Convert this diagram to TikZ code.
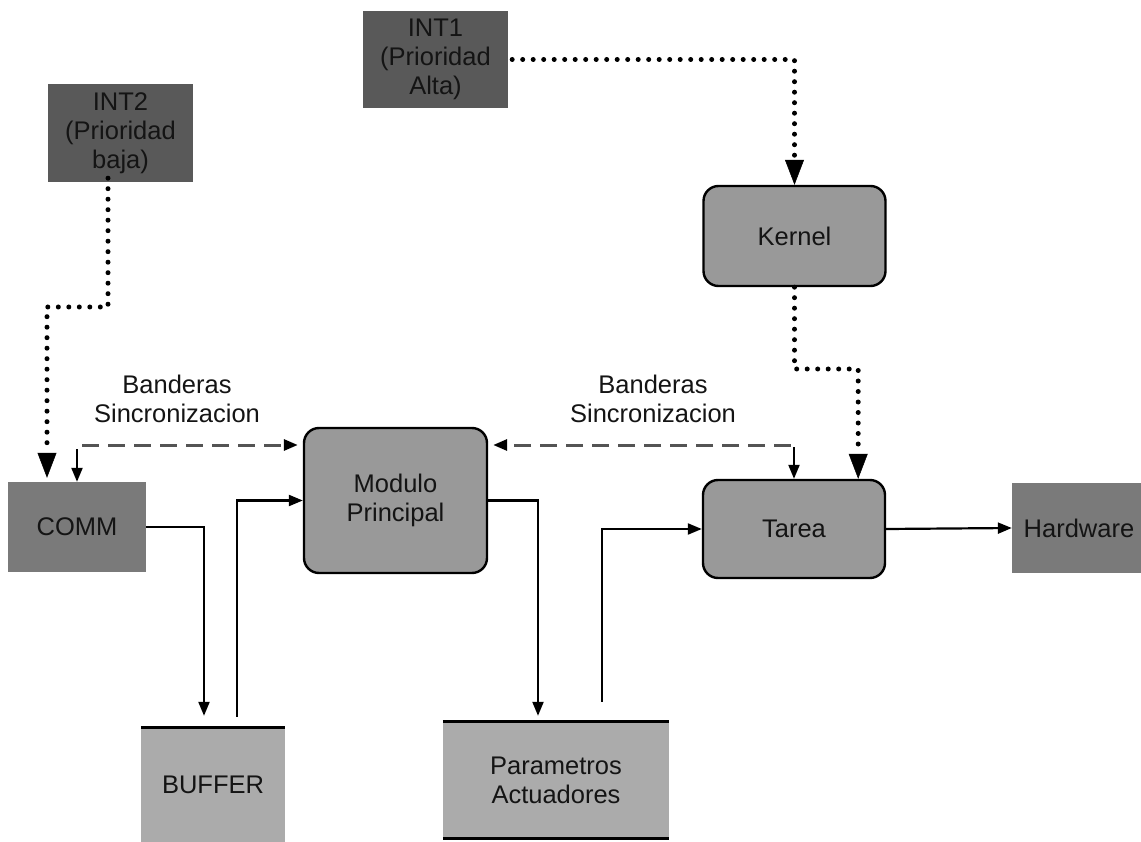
\documentclass[tikz,border=0pt]{standalone}
\usepackage{fontspec}
\setmainfont{Liberation Sans}
\usetikzlibrary{arrows.meta}
\definecolor{irqgray}{gray}{0.35}
\definecolor{portgray}{gray}{0.48}
\definecolor{procgray}{gray}{0.60}
\definecolor{storegray}{gray}{0.67}
\definecolor{syncgray}{gray}{0.33}
\definecolor{inkgray}{gray}{0.08}
\begin{document}
\begin{tikzpicture}[x=1pt,y=-1pt,
  every node/.style={font=\fontsize{25.5pt}{29pt}\selectfont, text=inkgray, align=center, inner sep=0pt},
  irq/.style={rectangle, fill=irqgray},
  port/.style={rectangle, fill=portgray},
  proc/.style={rectangle, draw=black, line width=2.4pt, rounded corners=15pt, fill=procgray},
  store/.style={rectangle, fill=storegray},
  storeline/.style={line width=2.8pt},
  dotline/.style={line width=5pt, dash pattern=on 0pt off 10.5pt, line cap=round,
    -{Triangle[length=25pt,width=19pt,line width=0.5pt]}},
  flow/.style={line width=2.2pt, -{Triangle[length=14pt,width=11pt]}},
  sync/.style={line width=3pt, draw=syncgray, dash pattern=on 17pt off 9pt,
    -{Triangle[length=14pt,width=11pt,color=black]}}]

\useasboundingbox (0,0) rectangle (1141,842);

% interrupt sources
\node[irq, minimum width=145pt, minimum height=98pt] (int2) at (120.5,133) {INT2\\(Prioridad\\baja)};
\node[irq, minimum width=145pt, minimum height=97pt] (int1) at (435.5,59.5) {INT1\\(Prioridad\\Alta)};

% processing blocks
\node[proc, minimum width=182pt, minimum height=100pt] (kernel) at (794.5,236) {Kernel};
\node[proc, minimum width=183pt, minimum height=145pt] (modulo) at (395.5,500.5) {Modulo\\Principal};
\node[proc, minimum width=182pt, minimum height=98pt] (tarea) at (794,529) {Tarea};

% ports
\node[port, minimum width=138pt, minimum height=90pt] (comm) at (77,527) {COMM};
\node[port, minimum width=134pt, minimum height=90pt] (hw) at (1079,528) {Hardware};

% data stores
\node[store, minimum width=144pt, minimum height=114pt] (buffer) at (213,785) {BUFFER};
\node[store, minimum width=226pt, minimum height=116pt] (param) at (556,780) {Parametros\\Actuadores};
\draw[storeline] (buffer.north west) -- (buffer.north east);
\draw[storeline] (param.north west) -- (param.north east);
\draw[storeline] (param.south west) -- (param.south east);

% labels of the synchronisation flags
\node (syncL) at (177,399) {Banderas\\Sincronizacion};
\node (syncR) at (653,399) {Banderas\\Sincronizacion};

% interrupt paths
\coordinate (i2bend) at (108,307);
\coordinate (kbend) at (794.5,369);
\draw[dotline, shorten <=4pt] (int1.east) -| (kernel.north);
\draw[dotline] (kernel.south) -- (kbend) -| ([xshift=-28pt]tarea.north east);
\draw[dotline, shorten >=4pt] ([xshift=-12.5pt,yshift=4pt]int2.south) -- (i2bend) -| ([xshift=-30pt]comm.north);

% synchronisation flags
\coordinate (syncLc) at (77,445);
\coordinate (syncRc) at (794,445);
\draw[flow] ([yshift=-4pt]syncLc) -- (comm.north);
\draw[sync, shorten >=5pt] ([xshift=5pt]syncLc) -- (modulo.west |- syncLc);
\draw[sync, shorten >=5pt] ([xshift=-3pt]syncRc) -- (modulo.east |- syncRc);
\draw[flow] ([yshift=-2pt]syncRc) -- (tarea.north);

% data flows
\draw[flow] (comm.east) -| ([xshift=-9pt,yshift=12pt]buffer.north);
\draw[flow] ([xshift=24pt,yshift=11pt]buffer.north) |- (modulo.west);
\draw[flow] (modulo.east) -| ([xshift=-18pt,yshift=6pt]param.north);
\draw[flow] ([xshift=46pt,yshift=20pt]param.north) |- (tarea.west);
\draw[flow] (tarea.east) -- (hw.west);
\end{tikzpicture}
\end{document}
